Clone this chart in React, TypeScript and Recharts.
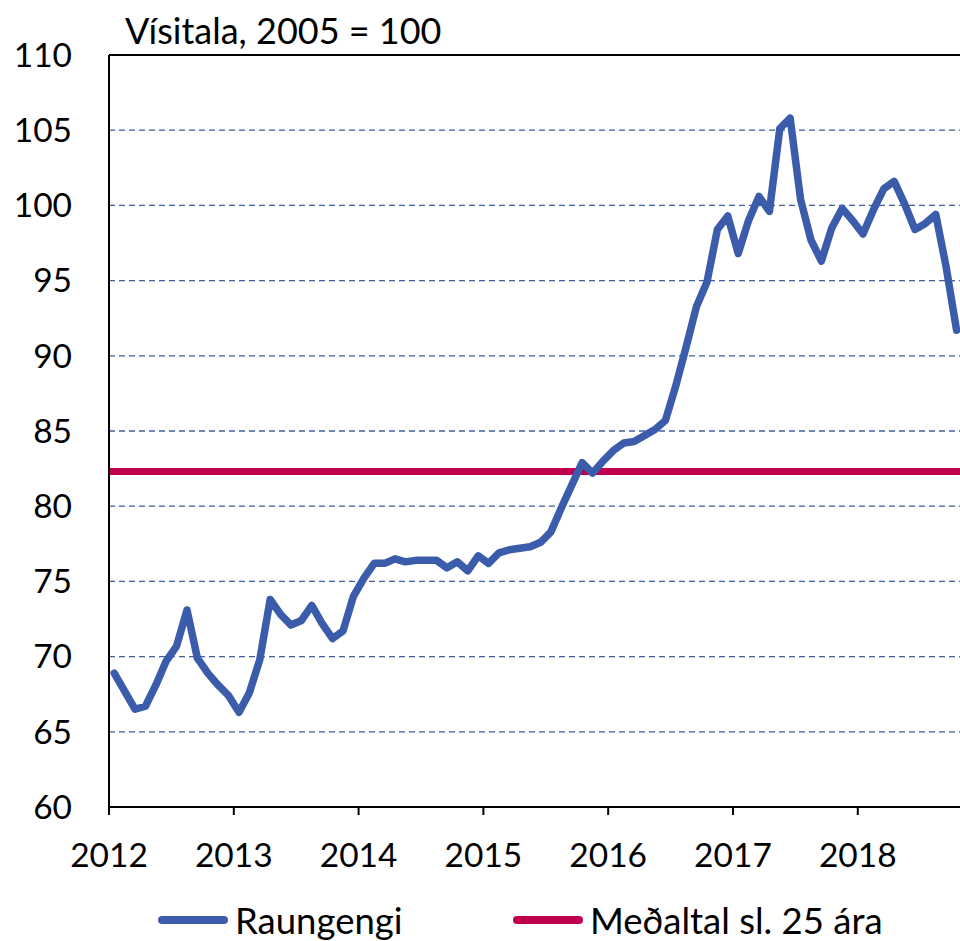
import React from "react";
import {
  LineChart, Line, XAxis, YAxis, CartesianGrid, ReferenceLine,
} from "recharts";

// Raungengi (real exchange rate), monthly, Jan 2012 – Oct 2018
const RAUNGENGI = [
  68.9, 67.7, 66.5, 66.7, 68.1, 69.7, 70.7, 73.1, 69.9, 68.9, 68.1, 67.4,
  66.3, 67.6, 69.8, 73.8, 72.8, 72.1, 72.4, 73.4, 72.2, 71.2, 71.7, 74.0,
  75.2, 76.2, 76.2, 76.5, 76.3, 76.4, 76.4, 76.4, 75.9, 76.3, 75.7, 76.7,
  76.2, 76.9, 77.1, 77.2, 77.3, 77.6, 78.3, 79.9, 81.4, 82.9, 82.2, 83.0,
  83.7, 84.2, 84.3, 84.7, 85.1, 85.7, 88.0, 90.6, 93.3, 94.9, 98.4, 99.3,
  96.8, 99.0, 100.6, 99.6, 105.1, 105.8, 100.4, 97.7, 96.3, 98.5, 99.8, 99.0,
  98.1, 99.7, 101.1, 101.6, 100.1, 98.4, 98.8, 99.4, 95.9, 91.7,
];
const AVG_25_YEARS = 82.3;

const YEARS = ["2012", "2013", "2014", "2015", "2016", "2017", "2018"];
const Y_TICKS = [60, 65, 70, 75, 80, 85, 90, 95, 100, 105, 110];

const BLUE = "#3a5caa";
const RED = "#c0004e";
const GRID = "#3f5e9e";
const FONT = "Lato, 'Open Sans', sans-serif";
const TICK_SIZE = 33.5;

const data = RAUNGENGI.map((v, i) => ({ i, v }));
const yearTicks = YEARS.map((_, k) => k * 12 - 0.5);

function LegendItem({ color, label, left }: { color: string; label: string; left: number }) {
  return (
    <div style={{ position: "absolute", left, top: 0, display: "flex", alignItems: "center" }}>
      <div style={{ width: 70, height: 8, borderRadius: 4, background: color, marginRight: 7 }} />
      <span>{label}</span>
    </div>
  );
}

export default function App() {
  return (
    <div style={{ position: "absolute", left: 0, top: 0, width: 960, height: 941, background: "#fff", fontFamily: FONT, color: "#000" }}>
      <div style={{ position: "absolute", left: 125, top: 9, lineHeight: "42px", fontSize: 36 }}>Vísitala, 2005 = 100</div>
      <LineChart width={960} height={941} data={data} margin={{ top: 55, right: 0, bottom: 0, left: 0 }}>
        <CartesianGrid vertical={false} stroke={GRID} strokeDasharray="6 4" strokeWidth={1.3} />
        <XAxis
          dataKey="i"
          type="number"
          domain={[-0.5, 81.33]}
          ticks={yearTicks}
          tickFormatter={(t: number) => YEARS[Math.round((t + 0.5) / 12)]}
          height={134}
          tickSize={8}
          tickMargin={28}
          stroke="#000"
          strokeWidth={2}
          tick={{ fill: "#000", fontSize: TICK_SIZE, fontFamily: FONT }}
          allowDataOverflow
        />
        <YAxis
          domain={[60, 110]}
          ticks={Y_TICKS}
          width={109}
          tickLine={false}
          tickSize={0}
          tickMargin={37}
          stroke="#000"
          strokeWidth={2}
          tick={{ fill: "#000", fontSize: TICK_SIZE, fontFamily: FONT }}
          interval={0}
        />
        <ReferenceLine y={110} stroke="#000" strokeWidth={2} />
        <ReferenceLine y={AVG_25_YEARS} stroke={RED} strokeWidth={7} />
        <Line
          dataKey="v"
          stroke={BLUE}
          strokeWidth={7.5}
          dot={false}
          strokeLinejoin="round"
          strokeLinecap="round"
          isAnimationActive={false}
        />
      </LineChart>
      <div style={{ position: "absolute", left: 0, top: 900, width: 960, height: 41, lineHeight: "40px", fontSize: 36.5 }}>
        <LegendItem color={BLUE} label="Raungengi" left={158} />
        <LegendItem color={RED} label="Meðaltal sl. 25 ára" left={513} />
      </div>
    </div>
  );
}
